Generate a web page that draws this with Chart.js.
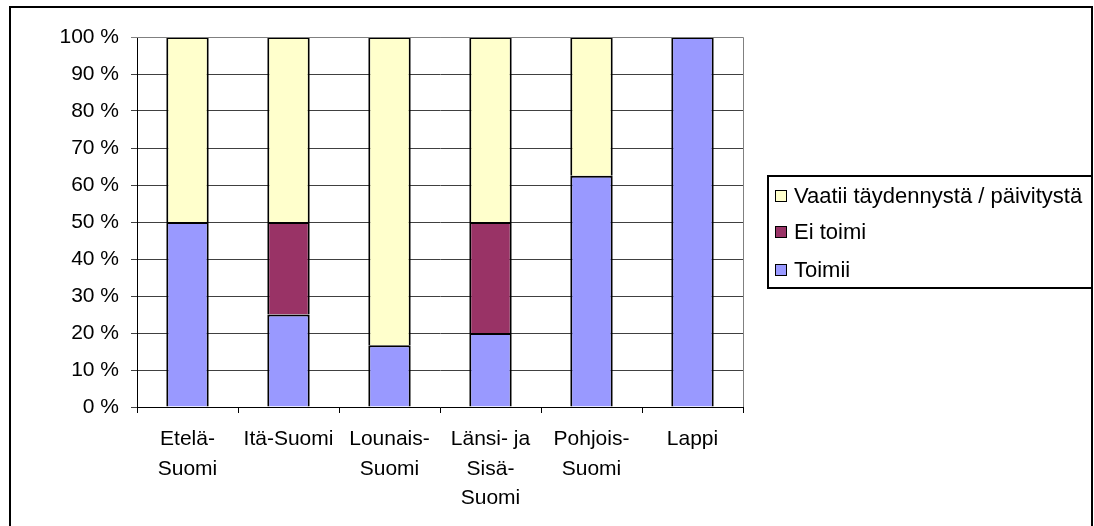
<!DOCTYPE html>
<html>
<head>
<meta charset="utf-8">
<script src="https://cdn.jsdelivr.net/npm/chart.js@4/dist/chart.umd.min.js"></script>
<style>
    html, body { margin: 0; padding: 0; background: #fff; }
    #wrap { width: 1094px; height: 526px; }
</style>
</head>
<body>
<div id="wrap"><canvas id="chart" width="1094" height="526"></canvas></div>
<script>
// categories (multi-line labels as in the original)
const regions = [
    ['Etelä-', 'Suomi'],
    'Itä-Suomi',
    ['Lounais-', 'Suomi'],
    ['Länsi- ja', 'Sisä-', 'Suomi'],
    ['Pohjois-', 'Suomi'],
    'Lappi'
];

// series values, percent
const toimii = [50, 25, 16.7, 20, 62.5, 100];
const eiToimi = [0, 25, 0, 30, 0, 0];
const vaatii = [50, 50, 83.3, 50, 37.5, 0];

const seriesNames = ['Toimii', 'Ei toimi', 'Vaatii täydennystä / päivitystä'];
const seriesColors = ['#9999FF', '#993366', '#FFFFCC'];

const yTicks = [0, 10, 20, 30, 40, 50, 60, 70, 80, 90, 100];

const FONT = "'Liberation Sans', Arial, sans-serif";

const frame = {
    id: 'frame',
    beforeDraw: (chart) => {
        const { ctx, width, height } = chart;
        ctx.save();
        ctx.fillStyle = '#fff';
        ctx.fillRect(0, 0, width, height);
        ctx.restore();
    },
    afterDraw: (chart) => {
        const { ctx, chartArea } = chart;
        ctx.save();
        // plot area border (top + right, gray)
        ctx.strokeStyle = '#808080';
        ctx.lineWidth = 1;
        ctx.beginPath();
        ctx.moveTo(chartArea.left, chartArea.top + 0.5);
        ctx.lineTo(chartArea.right + 0.5, chartArea.top + 0.5);
        ctx.lineTo(chartArea.right + 0.5, chartArea.bottom);
        ctx.stroke();

        // outer chart border
        ctx.strokeStyle = '#000';
        ctx.lineWidth = 2;
        ctx.strokeRect(10, 7, 1082, 540);

        // legend box
        ctx.strokeRect(768, 176, 324, 112);

        // legend entries, reversed like excel
        const rowsY = [196, 232, 270];
        const ds = chart.data.datasets.slice().reverse();
        ctx.font = '22px ' + FONT;
        ctx.textBaseline = 'middle';
        ctx.textAlign = 'left';
        ds.forEach((d, i) => {
            const y = rowsY[i];
            ctx.fillStyle = d.backgroundColor;
            ctx.fillRect(775, y - 6, 12, 12);
            ctx.lineWidth = 1;
            ctx.strokeStyle = '#000';
            ctx.strokeRect(775.5, y - 5.5, 11, 11);
            ctx.fillStyle = '#000';
            ctx.fillText(d.label, 794, y + 1);
        });
        ctx.restore();
    }
};

// zero-height segments are left out so they draw no stray border
const datasets = [toimii, eiToimi, vaatii].map((vals, i) => ({
    label: seriesNames[i],
    data: vals.map(v => (v === 0 ? null : v)),
    backgroundColor: seriesColors[i],
    borderColor: '#000',
    borderWidth: 2,
    borderSkipped: 'start',
    barPercentage: 0.42,
    categoryPercentage: 1
}));

new Chart(document.getElementById('chart'), {
    type: 'bar',
    data: { labels: regions, datasets: datasets },
    options: {
        responsive: false,
        animation: false,
        devicePixelRatio: 1,
        layout: { padding: { left: 0, top: 37, right: 351, bottom: 0 } },
        plugins: {
            legend: { display: false },
            tooltip: { enabled: false }
        },
        scales: {
            x: {
                stacked: true,
                afterFit: (s) => { s.height = 119; },
                grid: {
                    offset: true,
                    drawOnChartArea: false,
                    drawTicks: true,
                    tickLength: 6,
                    color: '#000'
                },
                border: { color: '#000', width: 1 },
                ticks: {
                    color: '#000',
                    padding: 12,
                    maxRotation: 0,
                    autoSkip: false,
                    font: { family: FONT, size: 21, lineHeight: 1.4 }
                }
            },
            y: {
                stacked: true,
                min: 0,
                max: 100,
                afterFit: (s) => { s.width = 137; },
                afterBuildTicks: (s) => { s.ticks = yTicks.map(v => ({ value: v })); },
                grid: {
                    color: (c) => c.tick && c.tick.value === 100 ? '#808080' : '#404040',
                    tickLength: 6,
                    drawTicks: true
                },
                border: { color: '#000', width: 1 },
                ticks: {
                    color: '#000',
                    padding: 12,
                    font: { family: FONT, size: 21 },
                    callback: (v) => v + ' %'
                }
            }
        }
    },
    plugins: [frame]
});
</script>
</body>
</html>
